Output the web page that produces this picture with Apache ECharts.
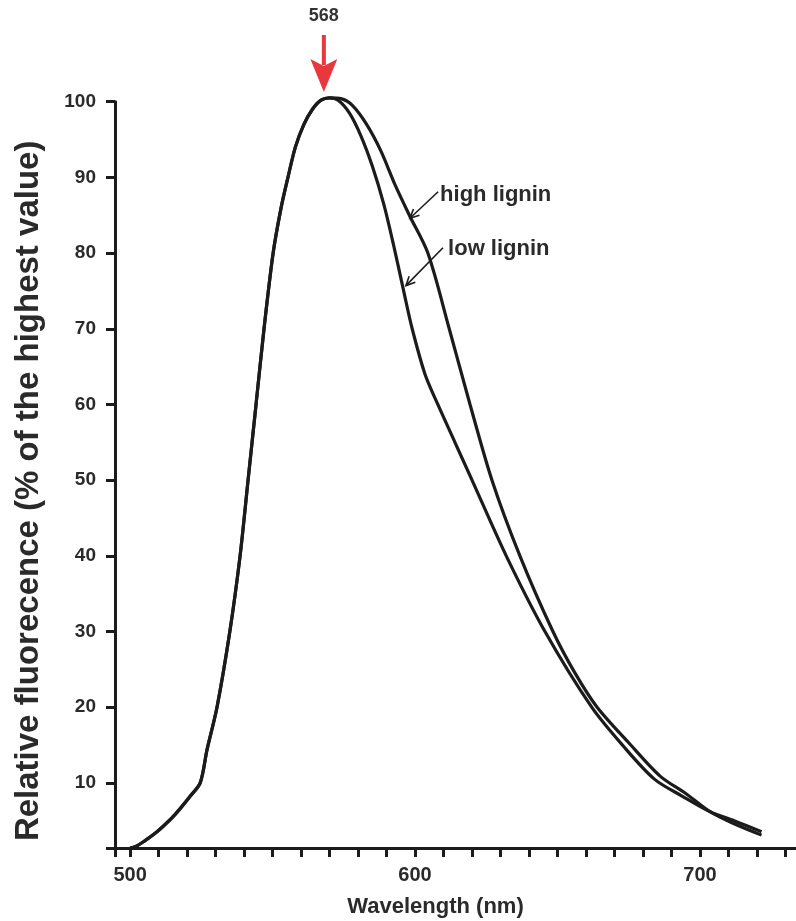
<!DOCTYPE html>
<html>
<head>
<meta charset="utf-8">
<script src="https://cdn.jsdelivr.net/npm/echarts@6/dist/echarts.min.js"></script>
<style>
  html, body { margin: 0; padding: 0; background: #ffffff; }
  #chart { width: 796px; height: 921px; }
</style>
</head>
<body>
<div id="chart"></div>
<script>
// ---- Data ----
// Shared rising part of both emission spectra (nm, % of highest value)
const riseWavelength = [500, 502, 505, 509, 512, 515, 518, 521, 524.6, 527, 530.5, 535, 538.6, 541.4, 544.2, 547, 550.2, 553, 555.4, 558, 561, 564, 567, 570];
const riseValue      = [1.4, 1.6, 2.3, 3.4, 4.4, 5.5, 6.8, 8.2, 10, 14.4, 20, 30, 40, 50, 60, 70, 80, 86, 90, 94, 97, 99, 100.2, 100.5];
// Falling part, high lignin
const highWavelength = [574, 578, 583, 588, 593, 598, 604.5, 612, 619.3, 627, 636.8, 648.4, 656, 663.9, 675, 686, 695, 703.5, 712, 721.6];
const highValue      = [100.4, 99.5, 97, 93.5, 89, 85, 80, 70, 60, 50, 40, 30, 24.6, 20, 15.3, 10.9, 8.6, 6.2, 4.6, 3.1];
// Falling part, low lignin
const lowWavelength  = [573, 577, 581, 585, 589, 592.5, 596, 599, 603.5, 608, 614, 620, 632, 645.6, 662, 673, 684, 694, 703.5, 712, 721.6];
const lowValue       = [100.2, 98.5, 95.5, 91.5, 86.5, 81, 75, 70, 64, 60, 55, 50, 40, 30, 20, 14.9, 10.5, 8.2, 6.2, 5.0, 3.55];

const peakWavelength = 568;
const peakLabel = '568';
const seriesNames = ['high lignin', 'low lignin'];
const xTickValues = [500, 510, 520, 530, 540, 550, 560, 570, 580, 590, 600, 610, 620, 630, 640, 650, 660, 670, 680, 690, 700, 710, 720, 730];
const xLabelValues = [500, 600, 700];
const yTickValues = [10, 20, 30, 40, 50, 60, 70, 80, 90, 100];
const xTitle = 'Wavelength (nm)';
const yTitle = 'Relative fluorecence (% of the highest value)';

// ---- Axis ranges ----
const X_MIN = 494.7, X_MAX = 733.7, Y_MIN = 1.4, Y_MAX = 100;

function pairs(xs, ys) { return xs.map((x, i) => [x, ys[i]]); }
const highData = pairs(riseWavelength, riseValue).concat(pairs(highWavelength, highValue));
const lowData  = pairs(riseWavelength, riseValue).concat(pairs(lowWavelength, lowValue));

const INK = '#1b1b1b';
const TXT = '#2a2a2a';
const FONT = '"Liberation Sans", Arial, sans-serif';

const chart = echarts.init(document.getElementById('chart'), null, { renderer: 'canvas' });

chart.setOption({
  animation: false,
  backgroundColor: '#ffffff',
  grid: { left: 115, right: 0, top: 101.7, bottom: 73, containLabel: false, outerBoundsMode: 'none' },
  xAxis: {
    type: 'value', min: X_MIN, max: X_MAX,
    name: xTitle, nameLocation: 'middle', nameGap: 48,
    nameTextStyle: { fontFamily: FONT, fontWeight: 'bold', fontSize: 22, color: TXT, padding: [0, 40, 0, 0] },
    axisLine: { show: true, onZero: false, lineStyle: { color: INK, width: 3 } },
    axisTick: { show: true, inside: false, length: 9, lineStyle: { color: INK, width: 3 }, customValues: [X_MIN].concat(xTickValues) },
    axisLabel: { show: true, margin: 17, fontFamily: FONT, fontWeight: 'bold', fontSize: 20, color: TXT, customValues: xLabelValues },
    splitLine: { show: false }
  },
  yAxis: {
    type: 'value', min: Y_MIN, max: Y_MAX,
    name: yTitle, nameLocation: 'middle', nameGap: 70, nameRotate: 90,
    nameTextStyle: { fontFamily: FONT, fontWeight: 'bold', fontSize: 33, color: TXT, padding: [0, 32, 0, 0] },
    axisLine: { show: true, onZero: false, lineStyle: { color: INK, width: 3 } },
    axisTick: { show: true, inside: false, length: 9, lineStyle: { color: INK, width: 3 }, customValues: [Y_MIN].concat(yTickValues) },
    axisLabel: { show: true, margin: 19, fontFamily: FONT, fontWeight: 'bold', fontSize: 19, color: TXT, customValues: yTickValues },
    splitLine: { show: false }
  },
  series: [
    {
      name: seriesNames[0], type: 'line', data: highData, smooth: 0.3,
      showSymbol: false, symbol: 'none', clip: false,
      lineStyle: { color: INK, width: 3.2 },
      markLine: {
        silent: true, symbol: ['none', 'none'], label: { show: false },
        lineStyle: { color: INK, width: 2.6, type: 'solid' },
        data: [[{ coord: [peakWavelength, Y_MIN] }, { coord: [peakWavelength, 100.5] }]]
      }
    },
    {
      name: seriesNames[1], type: 'line', data: lowData, smooth: 0.3,
      showSymbol: false, symbol: 'none', clip: false,
      lineStyle: { color: INK, width: 3.2 }
    }
  ]
});

// ---- Annotations, positioned through the chart's own coordinate system ----
const annotations = [
  { text: seriesNames[0], textAt: [608.8, 88.0], tail: [608.1, 88.1], tip: [598.2, 84.6] },
  { text: seriesNames[1], textAt: [611.6, 80.8], tail: [609.8, 80.7], tip: [596.8, 75.7] }
];

function px(pt) { return chart.convertToPixel({ gridIndex: 0 }, pt); }

const graphics = [];
annotations.forEach(a => {
  const t = px(a.textAt), s = px(a.tail), e = px(a.tip);
  graphics.push({
    type: 'text', left: t[0], top: t[1] - 9,
    style: { text: a.text, fontFamily: FONT, fontWeight: 'bold', fontSize: 22, fill: TXT }
  });
  graphics.push({ type: 'line', shape: { x1: s[0], y1: s[1], x2: e[0], y2: e[1] }, style: { stroke: INK, lineWidth: 1.6 } });
  const ang = Math.atan2(s[1] - e[1], s[0] - e[0]);
  const L = 10, spread = 0.45;
  graphics.push({
    type: 'polyline',
    shape: { points: [
      [e[0] + L * Math.cos(ang + spread), e[1] + L * Math.sin(ang + spread)],
      [e[0], e[1]],
      [e[0] + L * Math.cos(ang - spread), e[1] + L * Math.sin(ang - spread)]
    ] },
    style: { stroke: INK, lineWidth: 1.6, fill: null }
  });
});

// Red arrow pointing to the peak and its label
const peakPx = px([peakWavelength, 100.5]);
const cx = peakPx[0];
graphics.push({
  type: 'text', x: cx, y: 16,
  style: { text: peakLabel, fontFamily: FONT, fontWeight: 'bold', fontSize: 18, fill: '#333333', align: 'center', verticalAlign: 'middle' }
});
graphics.push({ type: 'rect', shape: { x: cx - 2, y: 35, width: 4, height: 30 }, style: { fill: '#e8383d' } });
graphics.push({
  type: 'polygon',
  shape: { points: [[cx - 13.5, 59], [cx, 66], [cx + 13.5, 59], [cx, 92]] },
  style: { fill: '#e8383d' }
});

chart.setOption({ graphic: graphics });
</script>
</body>
</html>
